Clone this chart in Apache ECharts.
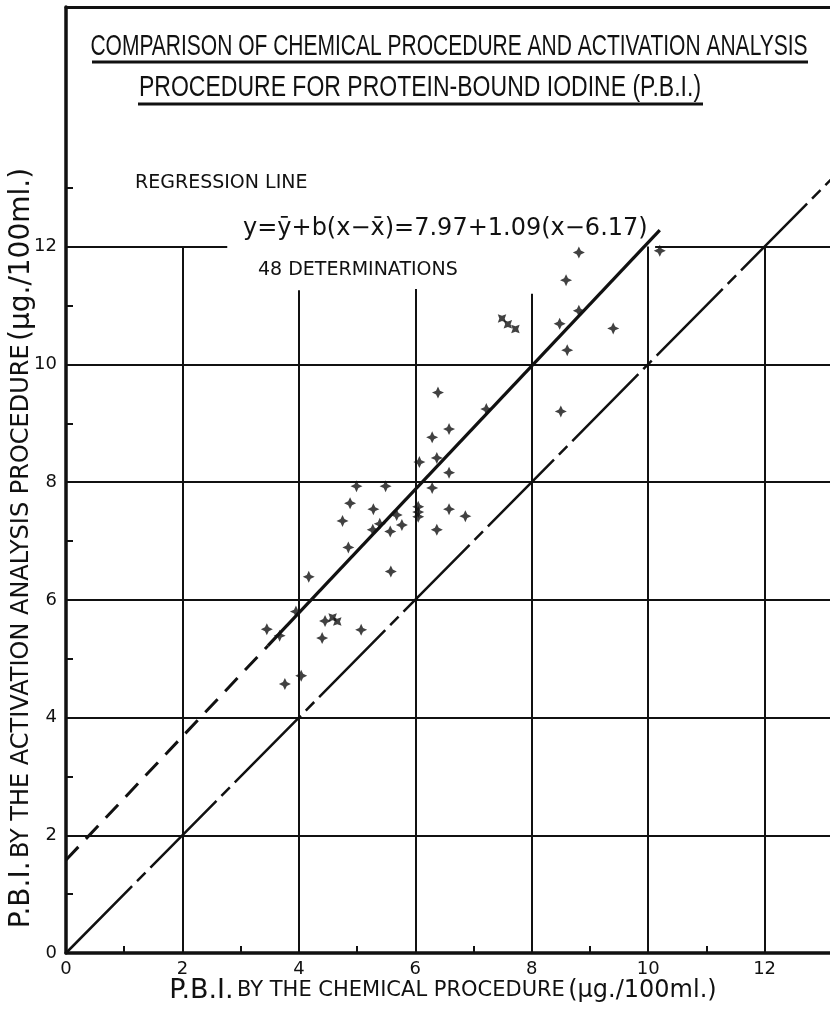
<!DOCTYPE html>
<html>
<head>
<meta charset="utf-8">
<title>P.B.I. chemical vs activation analysis</title>
<script src="https://cdn.jsdelivr.net/npm/echarts@6/dist/echarts.min.js"></script>
<style>
  html, body { margin: 0; padding: 0; background: #fff; }
  #chart { width: 830px; height: 1011px; }
</style>
</head>
<body>
<div id="chart"></div>
<script>
var ink = '#111';

// 48 determinations, µg./100ml.
var chemical = [6.58, 6.29, 6.37, 6.07, 6.58, 4.99, 5.49, 6.29, 4.88, 5.28,
                6.05, 6.05, 6.05, 6.58, 6.86, 5.68, 4.75, 5.39, 5.27, 5.77,
                5.57, 6.37, 4.85, 5.58, 6.39, 7.22, 4.17, 3.95, 4.45, 4.58,
                4.66, 3.45, 3.67, 4.40, 5.07, 4.04, 3.76, 8.81, 8.59, 7.49,
                7.59, 7.72, 8.81, 8.48, 9.40, 8.61, 8.50, 10.20];
var activation = [8.90, 8.76, 8.41, 8.34, 8.16, 7.93, 7.93, 7.90, 7.64, 7.54,
                  7.58, 7.49, 7.41, 7.54, 7.42, 7.44, 7.34, 7.29, 7.19, 7.27,
                  7.16, 7.19, 6.89, 6.48, 9.52, 9.24, 6.39, 5.80, 5.64, 5.70,
                  5.63, 5.50, 5.39, 5.35, 5.49, 4.71, 4.57, 11.90, 11.43, 10.78,
                  10.68, 10.60, 10.91, 10.69, 10.61, 10.24, 9.20, 11.93];
// these few were lettered as "x" instead of "+"
var tiltedIdx = [29, 30, 39, 40, 41];

var xLabels = [0, 2, 4, 6, 8, 10, 12];
var yLabels = [0, 2, 4, 6, 8, 10, 12];
var xMax = 14;

// line of identity
var identX = [0, 14];
var identY = [0, 14];
// regression line (dashed part is the extrapolation)
var regDashX = [0, 3.47];
var regDashY = [1.58, 5.22];
var regSolidX = [3.47, 10.2];
var regSolidY = [5.22, 12.28];

// ruling of the paper
var vRuleX = [2, 4, 6, 8, 10, 12];
var vRuleTop = [12, 11.26, 11.28, 11.2, 12, 12];
var hRuleY = [2, 4, 6, 8, 10];
var topRuleSpans = [[0, 2.77], [10.12, 14]];

var titleLines = ['COMPARISON OF CHEMICAL PROCEDURE AND ACTIVATION ANALYSIS',
                  'PROCEDURE FOR PROTEIN-BOUND IODINE (P.B.I.)'];

var rules = [];
vRuleX.forEach(function (x, i) {
  rules.push([{ coord: [x, 0] }, { coord: [x, vRuleTop[i]] }]);
});
hRuleY.forEach(function (y) {
  rules.push([{ coord: [0, y] }, { coord: [xMax, y] }]);
});
topRuleSpans.forEach(function (s) {
  rules.push([{ coord: [s[0], 12] }, { coord: [s[1], 12] }]);
});

function pairs(xs, ys) {
  return xs.map(function (x, i) { return [x, ys[i]]; });
}

var points = chemical.map(function (x, i) {
  var d = { value: [x, activation[i]] };
  if (tiltedIdx.indexOf(i) >= 0) d.symbolRotate = 45;
  return d;
});

var star = 'path://M0,-10 L3.2,-3.2 L10,0 L3.2,3.2 L0,10 L-3.2,3.2 L-10,0 L-3.2,-3.2 Z';
var tickFont = { fontFamily: 'DejaVu Sans', fontSize: 18, color: ink };

// sheet is 58.21 px per unit across; the tick grid stops at 12
var chart = echarts.init(document.getElementById('chart'));

chart.setOption({
  backgroundColor: '#fff',
  animation: false,
  grid: [
    { left: 66, right: -51, top: 7, bottom: 58, outerBoundsMode: 'none' },     // frame of the sheet
    { left: 66, right: 65.4, top: 129, bottom: 58, outerBoundsMode: 'none' }   // ticks + labels
  ],
  xAxis: [
    { gridIndex: 0, type: 'value', min: 0, max: xMax, position: 'bottom',
      axisLine: { onZero: false, lineStyle: { color: ink, width: 3.5 } },
      axisTick: { show: false }, axisLabel: { show: false }, splitLine: { show: false } },
    { gridIndex: 0, type: 'value', min: 0, max: xMax, position: 'top',
      axisLine: { onZero: false, lineStyle: { color: ink, width: 3 } },
      axisTick: { show: false }, axisLabel: { show: false }, splitLine: { show: false } },
    { gridIndex: 1, type: 'value', min: 0, max: 12, interval: 2, position: 'bottom',
      axisLine: { show: false },
      axisTick: { show: false, inside: true },
      minorTick: { show: true, splitNumber: 2, length: 7, lineStyle: { color: ink, width: 2 } },
      axisLabel: Object.assign({ margin: 7, formatter: function (v) {
        return xLabels.indexOf(v) >= 0 ? String(v) : '';
      } }, tickFont),
      splitLine: { show: false } }
  ],
  yAxis: [
    { gridIndex: 0, type: 'value', min: 0, max: 16.07, position: 'left',
      axisLine: { onZero: false, lineStyle: { color: ink, width: 3.5 } },
      axisTick: { show: false }, axisLabel: { show: false }, splitLine: { show: false } },
    { gridIndex: 1, type: 'value', min: 0, max: 14, interval: 2, position: 'left',
      axisLine: { show: false },
      axisTick: { show: false, inside: true },
      minorTick: { show: true, splitNumber: 2, length: 7, lineStyle: { color: ink, width: 2 } },
      axisLabel: Object.assign({ margin: 9, formatter: function (v) {
        return yLabels.indexOf(v) >= 0 ? String(v) : '';
      } }, tickFont),
      splitLine: { show: false } }
  ],
  series: [
    { name: 'rules', type: 'line', xAxisIndex: 0, yAxisIndex: 0, data: [], silent: true,
      markLine: { symbol: 'none', silent: true, label: { show: false },
        lineStyle: { color: ink, width: 2, type: 'solid' },
        emphasis: { disabled: true }, data: rules } },
    { name: 'y = x', type: 'line', xAxisIndex: 0, yAxisIndex: 0,
      data: pairs(identX, identY), symbol: 'none',
      lineStyle: { color: ink, width: 2.5, type: [94, 7, 12, 7] } },
    { name: 'regression (extrapolated)', type: 'line', xAxisIndex: 0, yAxisIndex: 0,
      data: pairs(regDashX, regDashY), symbol: 'none',
      lineStyle: { color: ink, width: 3, type: [18, 11] } },
    { name: 'regression', type: 'line', xAxisIndex: 0, yAxisIndex: 0,
      data: pairs(regSolidX, regSolidY), symbol: 'none',
      lineStyle: { color: ink, width: 3.2 } },
    { name: 'determinations', type: 'scatter', xAxisIndex: 0, yAxisIndex: 0,
      data: points, symbol: star, symbolSize: 12, itemStyle: { color: ink } }
  ],
  graphic: [
    { type: 'text', x: 449, y: 47, scaleX: 0.70,
      style: { text: titleLines[0], font: '30px "Liberation Sans"', fill: ink,
               align: 'center', verticalAlign: 'middle', textAlign: 'center', textVerticalAlign: 'middle' } },
    { type: 'line', shape: { x1: 92, y1: 62, x2: 808, y2: 62 }, style: { stroke: ink, lineWidth: 3 } },
    { type: 'text', x: 420, y: 88, scaleX: 0.767,
      style: { text: titleLines[1], font: '30px "Liberation Sans"', fill: ink,
               align: 'center', verticalAlign: 'middle', textAlign: 'center', textVerticalAlign: 'middle' } },
    { type: 'line', shape: { x1: 138, y1: 104, x2: 703, y2: 104 }, style: { stroke: ink, lineWidth: 3 } },
    { type: 'text', x: 135, y: 183,
      style: { text: 'REGRESSION LINE', font: '19px "DejaVu Sans"', fill: ink,
               align: 'left', verticalAlign: 'middle', textAlign: 'left', textVerticalAlign: 'middle' } },
    { type: 'text', x: 243, y: 229,
      style: { text: 'y=y\u0304+b(x\u2212x\u0304)=7.97+1.09(x\u22126.17)', font: '24px "DejaVu Sans"', fill: ink,
               align: 'left', verticalAlign: 'middle', textAlign: 'left', textVerticalAlign: 'middle' } },
    { type: 'text', x: 258, y: 270,
      style: { text: '48 DETERMINATIONS', font: '19px "DejaVu Sans"', fill: ink,
               align: 'left', verticalAlign: 'middle', textAlign: 'left', textVerticalAlign: 'middle' } },
    { type: 'text', x: 22, y: 548, rotation: Math.PI / 2,
      style: { text: '{b|P.B.I.} {s|BY THE ACTIVATION ANALYSIS PROCEDURE} {b|(\u00b5g./100ml.)}',
               fill: ink, align: 'center', verticalAlign: 'middle', textAlign: 'center', textVerticalAlign: 'middle',
               rich: { b: { fontFamily: 'DejaVu Sans', fontSize: 28, color: ink },
                       s: { fontFamily: 'DejaVu Sans', fontSize: 24, color: ink } } } },
    { type: 'text', x: 443, y: 991,
      style: { text: '{b|P.B.I.} {s|BY THE CHEMICAL PROCEDURE} {u|(\u00b5g./100ml.)}',
               fill: ink, align: 'center', verticalAlign: 'middle', textAlign: 'center', textVerticalAlign: 'middle',
               rich: { b: { fontFamily: 'DejaVu Sans', fontSize: 27, color: ink },
                       s: { fontFamily: 'DejaVu Sans', fontSize: 21, color: ink },
                       u: { fontFamily: 'DejaVu Sans', fontSize: 24, color: ink } } } }
  ]
});
</script>
</body>
</html>
